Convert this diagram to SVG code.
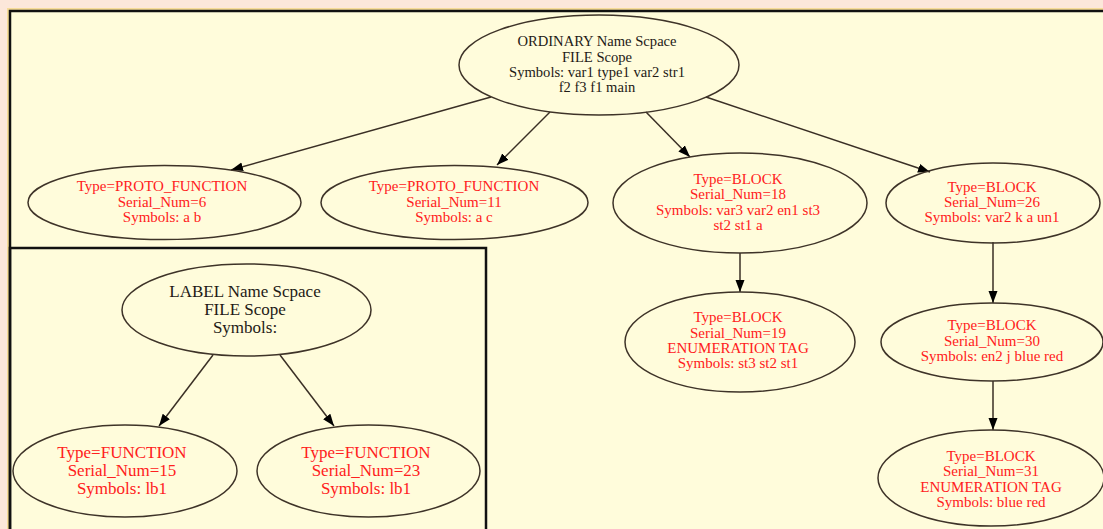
<svg xmlns="http://www.w3.org/2000/svg" width="1103" height="529" viewBox="0 0 1103 529">
  <style>
    .node ellipse { fill: none; stroke: #3e3328; stroke-width: 1.5; }
    .dark { font-family: "Liberation Serif", "Times New Roman", serif; font-size: 14.6px; fill: #1e1a16; text-anchor: middle; }
    .red { font-family: "Liberation Serif", "Times New Roman", serif; font-size: 15px; fill: #ff2020; text-anchor: middle; }
    .big { font-size: 17px; }
    .edge { stroke: #3a2f25; stroke-width: 1.5; fill: none; marker-end: url(#arrow); }
  </style>
  <defs>
    <marker id="arrow" markerUnits="userSpaceOnUse" markerWidth="13" markerHeight="10" refX="12" refY="4.5" orient="auto">
      <path d="M0,0 L12,4.5 L0,9 z" fill="#000"/>
    </marker>
  </defs>

  <!-- page background -->
  <rect x="0" y="0" width="1103" height="529" fill="#fce7da"/>

  <!-- outer graph frame -->
  <rect x="10" y="11" width="1110" height="540" fill="none" stroke="#f7dc98" stroke-width="6"/>
  <rect x="10" y="11" width="1110" height="540" fill="#fffcdb" stroke="#111" stroke-width="2.5"/>

  <!-- label namespace cluster -->
  <g id="cluster_label">
    <rect x="10" y="248" width="476" height="300" fill="none" stroke="#111" stroke-width="2.5"/>
  </g>

  <!-- connectors -->
  <g id="edges">
    <line class="edge" x1="491" y1="97" x2="231" y2="170"/>
    <line class="edge" x1="550" y1="112" x2="497" y2="165"/>
    <line class="edge" x1="646" y1="112" x2="690" y2="157"/>
    <line class="edge" x1="706" y1="97" x2="930" y2="172"/>
    <line class="edge" x1="740" y1="253" x2="740" y2="292"/>
    <line class="edge" x1="993" y1="242" x2="993" y2="303"/>
    <line class="edge" x1="993" y1="381" x2="993" y2="430"/>
    <line class="edge" x1="213" y1="355" x2="159" y2="426"/>
    <line class="edge" x1="280" y1="355" x2="334" y2="426"/>
  </g>

  <g id="ordinary" class="node">
    <ellipse cx="599" cy="65" rx="140" ry="50"/>
    <text class="dark" x="597" y="46">ORDINARY Name Scpace</text>
    <text class="dark" x="597" y="62">FILE Scope</text>
    <text class="dark" x="597" y="77">Symbols: var1 type1 var2 str1</text>
    <text class="dark" x="597" y="92">f2 f3 f1 main</text>
  </g>

  <g id="proto6" class="node">
    <ellipse cx="164.5" cy="202.5" rx="136.5" ry="37"/>
    <text class="red" x="162" y="191">Type=PROTO_FUNCTION</text>
    <text class="red" x="162" y="207">Serial_Num=6</text>
    <text class="red" x="162" y="222">Symbols: a b</text>
  </g>

  <g id="proto11" class="node">
    <ellipse cx="454.5" cy="202.5" rx="133.5" ry="37"/>
    <text class="red" x="454" y="191">Type=PROTO_FUNCTION</text>
    <text class="red" x="454" y="207">Serial_Num=11</text>
    <text class="red" x="454" y="222">Symbols: a c</text>
  </g>

  <g id="block18" class="node">
    <ellipse cx="740" cy="203" rx="127" ry="50"/>
    <text class="red" x="738" y="184">Type=BLOCK</text>
    <text class="red" x="738" y="199">Serial_Num=18</text>
    <text class="red" x="738" y="215">Symbols: var3 var2 en1 st3</text>
    <text class="red" x="738" y="230">st2 st1 a</text>
  </g>

  <g id="block26" class="node">
    <ellipse cx="993" cy="203" rx="107" ry="40"/>
    <text class="red" x="992" y="192">Type=BLOCK</text>
    <text class="red" x="992" y="207">Serial_Num=26</text>
    <text class="red" x="992" y="222">Symbols: var2 k a un1</text>
  </g>

  <g id="block19" class="node">
    <ellipse cx="740" cy="342" rx="115" ry="50"/>
    <text class="red" x="738" y="322">Type=BLOCK</text>
    <text class="red" x="738" y="338">Serial_Num=19</text>
    <text class="red" x="738" y="353">ENUMERATION TAG</text>
    <text class="red" x="738" y="368">Symbols: st3 st2 st1</text>
  </g>

  <g id="block30" class="node">
    <ellipse cx="992" cy="342" rx="111" ry="39"/>
    <text class="red" x="992" y="330">Type=BLOCK</text>
    <text class="red" x="992" y="346">Serial_Num=30</text>
    <text class="red" x="992" y="361">Symbols: en2 j blue red</text>
  </g>

  <g id="block31" class="node">
    <ellipse cx="991" cy="478" rx="113" ry="48"/>
    <text class="red" x="991" y="461">Type=BLOCK</text>
    <text class="red" x="991" y="476">Serial_Num=31</text>
    <text class="red" x="991" y="492">ENUMERATION TAG</text>
    <text class="red" x="991" y="507">Symbols: blue red</text>
  </g>

  <g id="label_ns" class="node">
    <ellipse cx="246.5" cy="310" rx="124.5" ry="46"/>
    <text class="dark big" x="245" y="297">LABEL Name Scpace</text>
    <text class="dark big" x="245" y="315">FILE Scope</text>
    <text class="dark big" x="245" y="333">Symbols:</text>
  </g>

  <g id="func15" class="node">
    <ellipse cx="125" cy="471" rx="112" ry="46"/>
    <text class="red big" x="122" y="458">Type=FUNCTION</text>
    <text class="red big" x="122" y="476">Serial_Num=15</text>
    <text class="red big" x="122" y="494">Symbols: lb1</text>
  </g>

  <g id="func23" class="node">
    <ellipse cx="368.5" cy="471" rx="111.5" ry="46"/>
    <text class="red big" x="366" y="458">Type=FUNCTION</text>
    <text class="red big" x="366" y="476">Serial_Num=23</text>
    <text class="red big" x="366" y="494">Symbols: lb1</text>
  </g>
</svg>
